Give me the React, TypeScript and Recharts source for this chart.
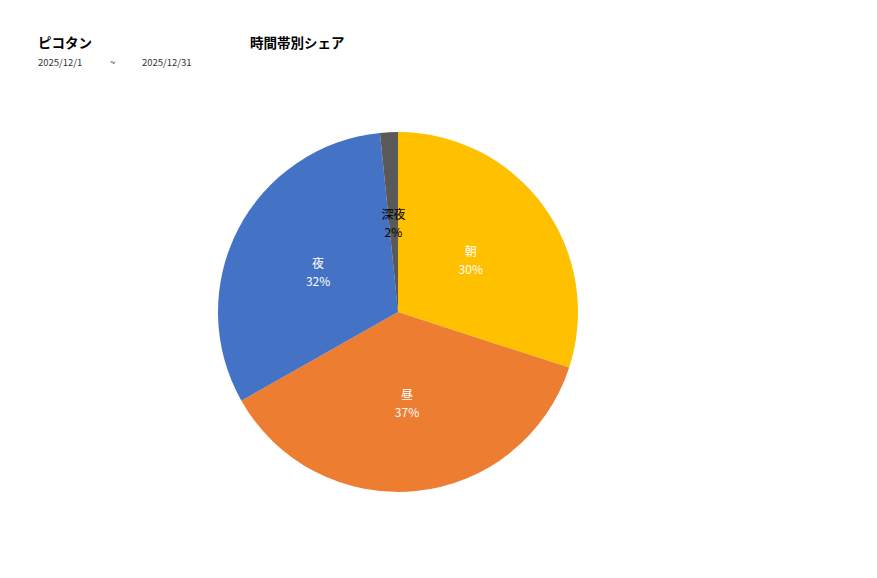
import { PieChart, Pie, Cell } from 'recharts';

// 時間帯別シェア
const categories = ['朝', '昼', '夜', '深夜'];
const shares = [30.0, 36.8, 31.6, 1.6];
const colors = ['#FFC000', '#ED7D31', '#4472C4', '#595959'];
const labelColors = ['#ffffff', '#ffffff', '#ffffff', '#000000'];

const data = categories.map((name, i) => ({ name, value: shares[i] }));

const FONT = '"Noto Sans CJK JP", "Noto Sans", sans-serif';
const RAD = Math.PI / 180;

function renderLabel(props: any) {
  const { cx, cy, midAngle, outerRadius, percent, name, index } = props;
  const r = outerRadius * 0.5;
  const x = cx + r * Math.cos(-midAngle * RAD);
  const y = cy + r * Math.sin(-midAngle * RAD);
  return (
    <text x={x} y={y} fill={labelColors[index]} textAnchor="middle" fontSize={12} fontFamily={FONT}>
      <tspan x={x} dy={-3}>{name}</tspan>
      <tspan x={x} dy={18}>{`${Math.round(percent * 100)}%`}</tspan>
    </text>
  );
}

export default function App() {
  return (
    <div style={{ position: 'absolute', left: 0, top: 0, width: 877, height: 578, background: '#fff', fontFamily: FONT }}>
      <div style={{ position: 'absolute', left: 38, top: 32, fontSize: 13.5, fontWeight: 'bold' }}>ピコタン</div>
      <div style={{ position: 'absolute', left: 250, top: 32, fontSize: 13.5, fontWeight: 'bold' }}>時間帯別シェア</div>
      <div style={{ position: 'absolute', left: 38, top: 55, fontSize: 9.5, color: '#333' }}>2025/12/1</div>
      <div style={{ position: 'absolute', left: 110, top: 55, fontSize: 9.5, color: '#333' }}>~</div>
      <div style={{ position: 'absolute', left: 142, top: 55, fontSize: 9.5, color: '#333' }}>2025/12/31</div>
      <div style={{ position: 'absolute', left: 0, top: 0 }}>
        <PieChart width={877} height={578} margin={{ top: 0, right: 0, bottom: 0, left: 0 }}>
          <Pie
            data={data}
            dataKey="value"
            nameKey="name"
            cx={398}
            cy={312}
            outerRadius={180}
            startAngle={90}
            endAngle={-270}
            stroke="none"
            labelLine={false}
            label={renderLabel}
            isAnimationActive={false}
          >
            {data.map((d, i) => (
              <Cell key={d.name} fill={colors[i]} />
            ))}
          </Pie>
        </PieChart>
      </div>
    </div>
  );
}
